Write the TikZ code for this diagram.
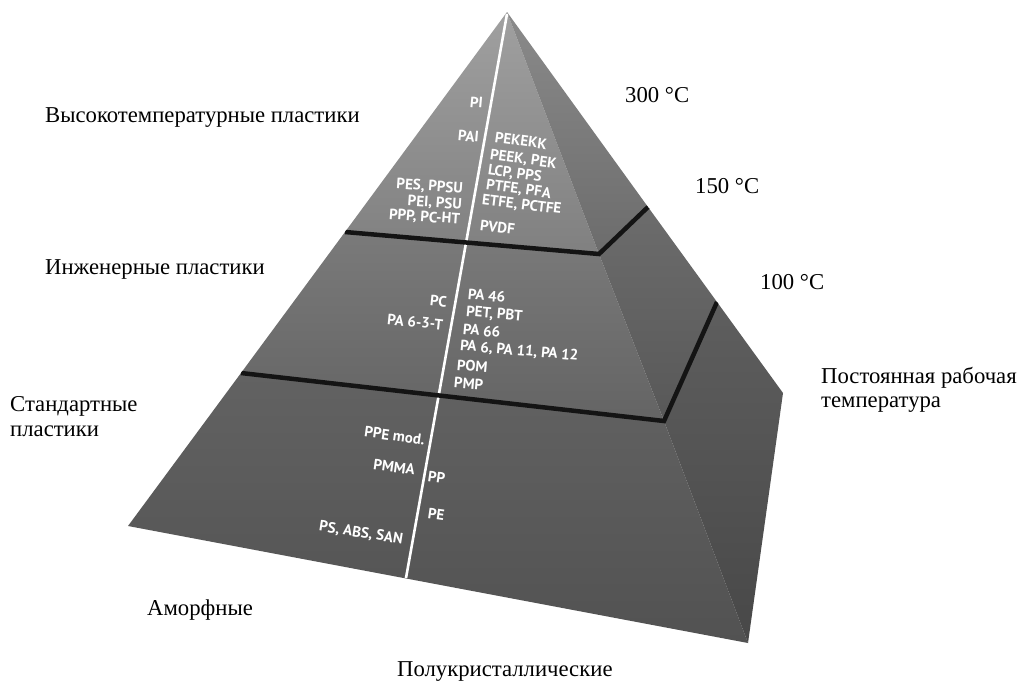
\documentclass[tikz,border=0pt]{standalone}
\usepackage{fontspec}
\setmainfont{Liberation Serif}
\newfontfamily\pyrfont{PT Sans}
\usetikzlibrary{calc}
\definecolor{tfA}{RGB}{160,160,160}
\definecolor{tfB}{RGB}{128,128,128}
\definecolor{trA}{RGB}{138,138,138}
\definecolor{trB}{RGB}{108,108,108}
\definecolor{mfA}{RGB}{122,122,122}
\definecolor{mfB}{RGB}{100,100,100}
\definecolor{mrA}{RGB}{108,108,108}
\definecolor{mrB}{RGB}{88,88,88}
\definecolor{bfA}{RGB}{98,98,98}
\definecolor{bfB}{RGB}{82,82,82}
\definecolor{brA}{RGB}{94,94,94}
\definecolor{brB}{RGB}{72,72,72}
\begin{document}
\begin{tikzpicture}[x=1pt,y=-1pt,
  lbl/.style={font=\fontsize{22.7}{24}\selectfont, inner sep=0pt, align=left},
  ptxt/.style={font=\pyrfont\bfseries\fontsize{15}{16}\selectfont, text=white, inner sep=0pt},
  groove/.style={line width=4.5pt, draw=black!92, line join=miter},
  divider/.style={line width=2.6pt, draw=white}
]
\useasboundingbox (0,0) rectangle (1020,681);
% key points
\coordinate (A) at (507,12);
\coordinate (BL) at (128,526);
\coordinate (R3) at (748,643);
\coordinate (BR) at (783,393);
\coordinate (L1) at (345,232);
\coordinate (R1) at (599,254);
\coordinate (S1) at (648,207);
\coordinate (L2) at (241,373);
\coordinate (R2) at (664,421);
\coordinate (S2) at (717,302);
\coordinate (Dt) at (507,14);
\coordinate (Db) at (406,578);
% faces
\shade[top color=tfA, bottom color=tfB] (A) -- (L1) -- (R1) -- cycle;
\shade[top color=trA, bottom color=trB] (A) -- (R1) -- (S1) -- cycle;
\shade[top color=mfA, bottom color=mfB] (L1) -- (L2) -- (R2) -- (R1) -- cycle;
\shade[top color=mrA, bottom color=mrB] (R1) -- (R2) -- (S2) -- (S1) -- cycle;
\shade[top color=bfA, bottom color=bfB] (L2) -- (BL) -- (R3) -- (R2) -- cycle;
\shade[top color=brA, bottom color=brB] (R2) -- (R3) -- (BR) -- (S2) -- cycle;
% divider and grooves
\begin{scope}
\clip (A) -- (BL) -- (R3) -- (BR) -- cycle;
\draw[divider] (Dt) -- (Db);
\draw[groove] (L1) -- (R1) -- (S1);
\draw[groove] (L2) -- (R2) -- (S2);
\end{scope}
% top tier texts
\node[ptxt, anchor=east, rotate=-5] (pi) at (483,103) {PI};
\node[ptxt, anchor=east, rotate=-5] (pai) at (479,137) {PAI};
\node[ptxt, anchor=east, rotate=-4] (pes) at (463,189) {PES, PPSU};
\node[ptxt, anchor=east, rotate=-4] (pei) at (462,205) {PEI, PSU};
\node[ptxt, anchor=east, rotate=-4] (ppp) at (460,220) {PPP, PC-HT};
\node[ptxt, anchor=west, rotate=-8] (pekekk) at (495,137) {PEKEKK};
\node[ptxt, anchor=west, rotate=-8] (peek) at (490,155) {PEEK, PEK};
\node[ptxt, anchor=west, rotate=-8] (lcp) at (488,170) {LCP, PPS};
\node[ptxt, anchor=west, rotate=-8] (ptfe) at (486,185) {PTFE, PFA};
\node[ptxt, anchor=west, rotate=-7] (etfe) at (482,200) {ETFE, PCTFE};
\node[ptxt, anchor=west, rotate=-7] (pvdf) at (480,225) {PVDF};
% middle tier texts
\node[ptxt, anchor=east, rotate=-6] (pc) at (447,302) {PC};
\node[ptxt, anchor=east, rotate=-6] (pa63t) at (443,325) {PA 6-3-T};
\node[ptxt, anchor=west, rotate=-5] (pa46) at (468,294) {PA 46};
\node[ptxt, anchor=west, rotate=-5] (pet) at (466,312) {PET, PBT};
\node[ptxt, anchor=west, rotate=-5] (pa66) at (463,329) {PA 66};
\node[ptxt, anchor=west, rotate=-5] (pa6) at (460,346) {PA 6, PA 11, PA 12};
\node[ptxt, anchor=west, rotate=-5] (pom) at (457,365) {POM};
\node[ptxt, anchor=west, rotate=-5] (pmp) at (454,382) {PMP};
% bottom tier texts
\node[ptxt, anchor=east, rotate=-8] (ppe) at (425,440) {PPE mod.};
\node[ptxt, anchor=east, rotate=-8] (pmma) at (415,470) {PMMA};
\node[ptxt, anchor=east, rotate=-9] (ps) at (403,540) {PS, ABS, SAN};
\node[ptxt, anchor=west, rotate=-8] (pp) at (428,476) {PP};
\node[ptxt, anchor=west, rotate=-8] (pe) at (428,513) {PE};
% outside labels
\node[lbl, anchor=base west] (hi) at (45,122) {Высокотемпературные пластики};
\node[lbl, anchor=base west] (eng) at (45,274) {Инженерные пластики};
\node[lbl, anchor=base west] (std1) at (10,411) {Стандартные};
\node[lbl, anchor=base west] (std2) at (10,436) {пластики};
\node[lbl, anchor=base west] (amo) at (147,615) {Аморфные};
\node[lbl, anchor=base west] (semi) at (397,676) {Полукристаллические};
\node[lbl, anchor=base west] (t300) at (625,102) {300 °C};
\node[lbl, anchor=base west] (t150) at (695,193) {150 °C};
\node[lbl, anchor=base west] (t100) at (760,289) {100 °C};
\node[lbl, anchor=base west] (cw1) at (821,383) {Постоянная рабочая};
\node[lbl, anchor=base west] (cw2) at (821,407) {температура};
\end{tikzpicture}
\end{document}
